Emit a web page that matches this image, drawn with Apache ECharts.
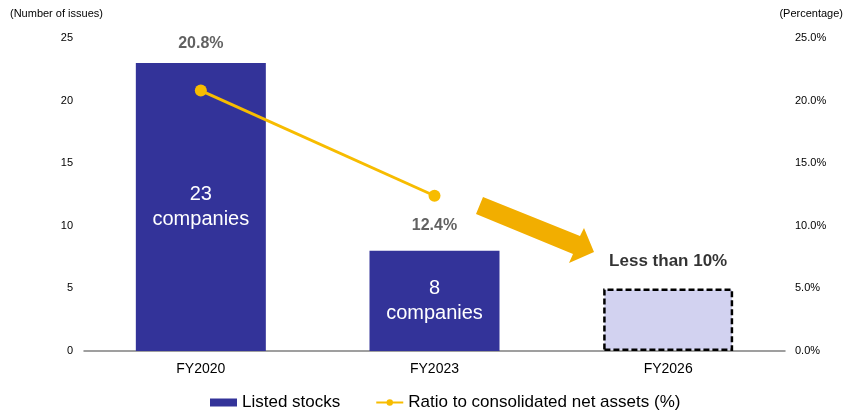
<!DOCTYPE html>
<html>
<head>
<meta charset="utf-8">
<script src="https://cdn.jsdelivr.net/npm/echarts@6/dist/echarts.min.js"></script>
<style>
html,body{margin:0;padding:0;background:#fff;}
#c{width:853px;height:415px;}
</style>
</head>
<body>
<div id="c"></div>
<script>
var categories = ['FY2020', 'FY2023', 'FY2026'];
var listedStocks = [23, 8, 5];
var ratioPct = [20.8, 12.4, null];
var topLabels = ['20.8%', '12.4%', 'Less than 10%'];
var insideLabels = ['23\ncompanies', '8\ncompanies', ''];
var leftTicks = [0, 5, 10, 15, 20, 25];

var FONT = '"Liberation Sans", Arial, sans-serif';
var chart = echarts.init(document.getElementById('c'));

var barData = listedStocks.map(function (v, i) {
  var item = { value: v };
  if (i === 2) {
    item.itemStyle = { color: '#D2D2F0', borderColor: '#000', borderWidth: 2.5, borderType: [6, 3] };
  }
  return item;
});
var topDist = [11, 17, 19];
var topData = listedStocks.map(function (v, i) {
  return {
    value: v,
    label: i === 2 ? { color: '#000', fontSize: 17, distance: topDist[i] } : { distance: topDist[i] }
  };
});

chart.setOption({
  animation: false,
  textStyle: { fontFamily: FONT },
  grid: { left: 84, width: 701, top: 38, height: 313 },
  xAxis: {
    type: 'category',
    data: categories,
    axisLine: { lineStyle: { color: '#808080', width: 1.5 } },
    axisTick: { show: false },
    axisLabel: { color: '#000', fontSize: 14, margin: 11, fontFamily: FONT }
  },
  yAxis: [
    {
      type: 'value', min: 0, max: 25, interval: 5,
      axisLine: { show: false }, axisTick: { show: false }, splitLine: { show: false },
      axisLabel: { color: '#000', fontSize: 11, margin: 11, fontFamily: FONT }
    },
    {
      type: 'value', min: 0, max: 25, interval: 5,
      axisLine: { show: false }, axisTick: { show: false }, splitLine: { show: false },
      axisLabel: { color: '#000', fontSize: 11, margin: 10, fontFamily: FONT,
        formatter: function (v) { return v.toFixed(1) + '%'; } }
    }
  ],
  legend: {
    left: 205, top: 389,
    itemGap: 35,
    itemWidth: 27, itemHeight: 8,
    textStyle: { fontSize: 17, color: '#000', fontFamily: FONT },
    data: [
      { name: 'Listed stocks', icon: 'rect' },
      { name: 'Ratio to consolidated net assets (%)' }
    ]
  },
  series: [
    {
      name: 'Listed stocks',
      type: 'bar',
      barWidth: 130,
      data: barData,
      itemStyle: { color: '#333399' },
      label: {
        show: true, position: 'inside', color: '#fff', fontSize: 20, lineHeight: 25,
        fontFamily: FONT,
        formatter: function (p) { return insideLabels[p.dataIndex]; }
      },
      z: 2
    },
    {
      name: 'tops',
      type: 'scatter',
      symbolSize: 0,
      data: topData,
      silent: true,
      label: {
        show: true, position: 'top', color: '#3A3A3A', fontSize: 16, fontWeight: 'bold',
        fontFamily: FONT,
        formatter: function (p) { return topLabels[p.dataIndex]; }
      },
      z: 5
    },
    {
      name: 'Ratio to consolidated net assets (%)',
      type: 'line',
      yAxisIndex: 1,
      data: ratioPct,
      symbol: 'circle',
      symbolSize: 12,
      color: '#F7BC00',
      lineStyle: { color: '#F7BC00', width: 3 },
      itemStyle: { color: '#F7BC00' },
      z: 4
    }
  ],
  graphic: [
    { type: 'text', left: 10, top: 8, style: { text: '(Number of issues)', font: '11px ' + FONT, fill: '#000' } },
    { type: 'text', right: 10, top: 8, style: { text: '(Percentage)', font: '11px ' + FONT, fill: '#000' } },
    {
      type: 'polygon',
      shape: { points: [[476, 214], [483, 197], [580, 236], [584, 228], [594, 252], [569, 263], [573, 254]] },
      style: { fill: '#F2AE00' },
      z: 10
    }
  ]
});
</script>
</body>
</html>
